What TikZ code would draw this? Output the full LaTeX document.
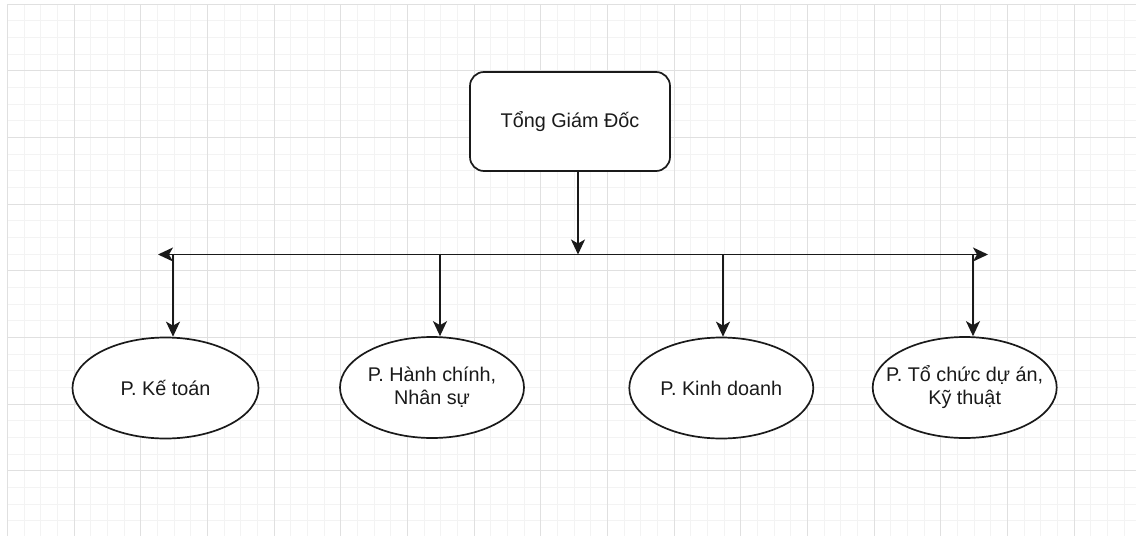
\documentclass[tikz,border=0pt]{standalone}
\usepackage{fontspec}
\setmainfont{Liberation Sans}
\usetikzlibrary{shapes.geometric,arrows.meta}
\definecolor{gridminor}{HTML}{F3F3F3}
\definecolor{gridmajor}{HTML}{E0E0E0}
\definecolor{ink}{HTML}{1A1A1A}
\tikzset{
  minorline/.style={draw=gridminor,line width=0.7pt},
  majorline/.style={draw=gridmajor,line width=0.8pt},
  topbox/.style={draw=ink,fill=white,line width=1.7pt,rounded corners=14pt,
    minimum width=200pt,minimum height=99pt,inner sep=0pt,
    font=\fontsize{19.8}{23}\selectfont,text=ink},
  dept/.style={ellipse,draw=ink,fill=white,line width=1.7pt,inner sep=0pt,
    minimum height=101pt},
  deptlabel/.style={align=center,inner sep=0pt,
    font=\fontsize{19.8}{23}\selectfont,text=ink},
  link/.style={draw=ink,line width=1.7pt,
    -{Stealth[length=15pt,width=14pt,inset=4pt]}},
  busline/.style={draw=ink,line width=1.7pt,
    {Stealth[length=15pt,width=14pt,inset=4pt]}-{Stealth[length=15pt,width=14pt,inset=4pt]}}
}
\begin{document}
\begin{tikzpicture}[x=1pt,y=-1pt]
\useasboundingbox (0,0) rectangle (1136,536);
\fill[white] (0,0) rectangle (1136,536);
% grid
\foreach \i in {0,...,67} {\draw[minorline] ({7.3+\i*16.667},4) -- ({7.3+\i*16.667},536);}
\foreach \j in {0,...,31} {\draw[minorline] (7.3,{4+\j*16.667}) -- (1136,{4+\j*16.667});}
\foreach \i in {0,...,16} {\draw[majorline] ({7.3+\i*66.667},4) -- ({7.3+\i*66.667},536);}
\foreach \j in {0,...,7} {\draw[majorline] (7.3,{4+\j*66.667}) -- (1136,{4+\j*66.667});}
% nodes
\node[topbox,label={[deptlabel]center:\raisebox{-2pt}{Tổng Giám Đốc}}] (ceo) at (570,121.5) {};
\node[dept,minimum width=186pt,label={[deptlabel]center:P. Kế toán}] (e1) at (165.5,388) {};
\node[dept,minimum width=184pt,label={[deptlabel]center:P. Hành chính,\\Nhân sự}] (e2) at (432,387.5) {};
\node[dept,minimum width=184pt,label={[deptlabel]center:P. Kinh doanh}] (e3) at (721.3,388) {};
\node[dept,minimum width=184pt,label={[deptlabel]center:P. Tổ chức dự án,\\Kỹ thuật}] (e4) at (964.7,387.5) {};
% bus
\coordinate (busL) at (158,254.5);
\coordinate (busR) at (988,254.5);
\coordinate (d0) at (578,171);
\coordinate (d1) at (173,254.5);
\coordinate (d2) at (440,254.5);
\coordinate (d3) at (723,254.5);
\coordinate (d4) at (973,254.5);
\draw[busline] (busL) -- (busR);
\draw[link] (ceo.south -| d0) -- (d0 |- busL);
\draw[link] (d1) -- (d1 |- e1.north);
\draw[link] (d2) -- (d2 |- e2.north);
\draw[link] (d3) -- (d3 |- e3.north);
\draw[link] (d4) -- (d4 |- e4.north);
\end{tikzpicture}
\end{document}
